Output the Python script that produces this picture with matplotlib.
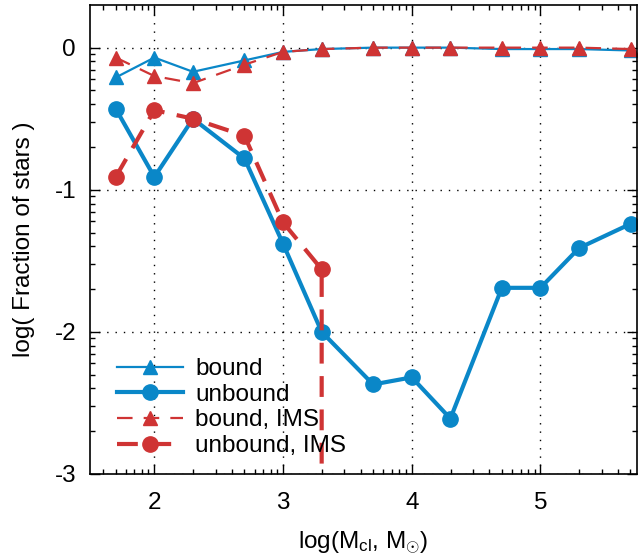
import numpy as np
import matplotlib
matplotlib.use("Agg")
import matplotlib.pyplot as plt
from matplotlib.ticker import FixedLocator

plt.rcParams['font.family'] = ['Liberation Sans', 'DejaVu Sans']
plt.rcParams['mathtext.fontset'] = 'custom'
plt.rcParams['mathtext.rm'] = 'Liberation Sans'
plt.rcParams['mathtext.it'] = 'Liberation Sans'

# log cluster mass
log_mcl = [1.7, 2.0, 2.3, 2.7, 3.0, 3.3, 3.7, 4.0, 4.3, 4.7, 5.0, 5.3, 5.7]
bound = [-0.21, -0.07, -0.17, -0.09, -0.03, -0.01, 0.0, 0.0, 0.0, -0.01, -0.01, -0.01, -0.02]
unbound = [-0.43, -0.91, -0.50, -0.78, -1.38, -2.00, -2.37, -2.32, -2.61, -1.69, -1.69, -1.41, -1.24]
bound_ims = [-0.07, -0.20, -0.25, -0.12, -0.03, -0.01, 0.0, 0.0, 0.0, 0.0, 0.0, 0.0, -0.01]
# unbound IMS: last entry (fraction -> 0) drops off the plot
log_mcl_uims = [1.7, 2.0, 2.3, 2.7, 3.0, 3.3, 3.3]
unbound_ims = [-0.91, -0.44, -0.50, -0.62, -1.23, -1.56, -4.0]

labels = ["bound", "unbound", "bound, IMS", "unbound, IMS"]
blue = '#0a87c8'
red = '#cf3434'

FS = 17.5

fig = plt.figure(figsize=(6.39, 5.59), dpi=100)
ax = fig.add_axes([90/639, 1-474/559, 547/639, 469/559])

ax.plot(log_mcl, bound, color=blue, lw=1.6, marker='^', ms=10, label=labels[0])
ax.plot(log_mcl, unbound, color=blue, lw=3.0, marker='o', ms=11, label=labels[1])
ax.plot(log_mcl, bound_ims, color=red, lw=1.6, ls=(0, (7, 5)), marker='^', ms=10, label=labels[2])
ax.plot(log_mcl_uims, unbound_ims, color=red, lw=3.0, ls=(0, (5, 3)), marker='o', ms=11, label=labels[3])

ax.set_xlim(1.5, 5.75)
ax.set_ylim(-3, 0.3)
ax.set_xticks([2, 3, 4, 5])
ax.set_yticks([0, -1, -2, -3])
ax.set_yticklabels(['0', '-1', '-2', '-3'])

k = np.log10(np.arange(2, 10))
xminor = np.concatenate([d + k for d in range(1, 6)])
yminor = np.concatenate([d + k for d in range(-4, 0)])
ax.xaxis.set_minor_locator(FixedLocator(xminor))
ax.yaxis.set_minor_locator(FixedLocator(yminor))

ax.tick_params(which='both', direction='in', top=True, right=True, labelsize=FS)
ax.tick_params(axis='x', pad=13)
ax.tick_params(axis='y', pad=10)
ax.tick_params(which='major', length=7, width=1)
ax.tick_params(which='minor', length=3.5, width=1)
ax.grid(True, which='major', color='black', ls=(0, (1, 5)), lw=1)
for s in ax.spines.values():
    s.set_linewidth(1.2)

ax.set_xlabel(r'log(M$_{\rm cl}$, M$_{\odot}$)', fontsize=FS, labelpad=11)
ax.set_ylabel('log( Fraction of stars )', fontsize=FS, labelpad=14)

ax.legend(loc='upper left', bbox_to_anchor=(0.05, 0.247), frameon=False, fontsize=FS,
          handlelength=2.7, handletextpad=0.5, labelspacing=0.15, borderpad=0,
          borderaxespad=0, numpoints=1)

fig.savefig('out.png', dpi=100)
